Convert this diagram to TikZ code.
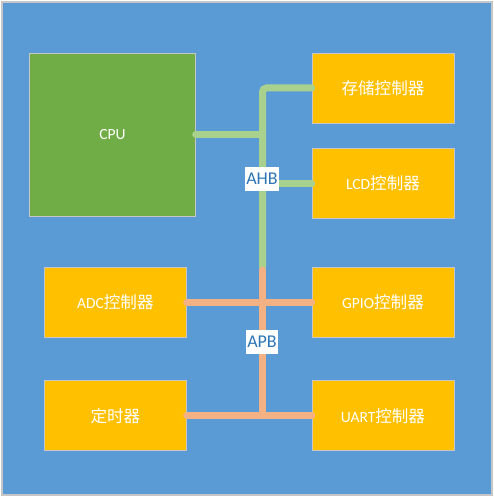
\documentclass[tikz,border=0pt]{standalone}
\usepackage{fontspec}
\setmainfont{Carlito}
\newfontfamily\cjk[Scale=1.07]{Noto Sans CJK SC}
\usepackage{tikz}
\usetikzlibrary{positioning}

\definecolor{bgblue}{HTML}{5B9BD5}
\definecolor{cpugreen}{HTML}{70AD47}
\definecolor{ctrlyellow}{HTML}{FFC000}
\definecolor{ahbgreen}{HTML}{A9D18E}
\definecolor{apborange}{HTML}{F4B183}
\definecolor{labelblue}{HTML}{2E75B6}

\begin{document}
\begin{tikzpicture}[
    x=1pt, y=1pt,
    font=\fontsize{15.5}{18}\selectfont,
    box/.style={rectangle, draw=gray!45, line width=0.6pt, fill=ctrlyellow, text=white, minimum width=142pt, minimum height=70pt},
    ahb/.style={draw=ahbgreen, line width=7pt, line cap=round, rounded corners=4pt},
    apb/.style={draw=apborange, line width=7pt, line cap=round},
    buslabel/.style={fill=white, text=labelblue, font=\fontsize{18}{20}\selectfont, inner xsep=1pt, inner ysep=2pt, minimum height=24pt}
]
    \useasboundingbox (0,0) rectangle (494,497);
    \draw[fill=bgblue, draw=gray!45, line width=1.5pt] (2,2) rectangle (492,495);

    \node[box] (mem) at (383,409) {\cjk 存储控制器};
    \node[box, below=25pt of mem] (lcd) {LCD\cjk 控制器};
    \node[box, below=48pt of lcd] (gpio) {GPIO\cjk 控制器};
    \node[box, below=43pt of gpio] (uart) {UART\cjk 控制器};
    \node[box, left=125pt of gpio] (adc) {ADC\cjk 控制器};
    \node[box, left=125pt of uart] (timer) {\cjk 定时器};
    \node[box, fill=cpugreen, minimum width=166pt, minimum height=163pt,
          left=116pt of mem.north west, anchor=north east] (cpu) {CPU};

    \coordinate (ahbtop) at (262.5,409);
    \coordinate (ahbend) at (262.5,230);
    \coordinate (apbtop) at (262.5,227);
    \coordinate (apbend) at (262.5,83);

    \draw[ahb] (mem.west) -- (ahbtop) -- (ahbend);
    \draw[ahb] (cpu.east) -- (cpu.east -| ahbtop);
    \draw[ahb] (lcd.west -| ahbtop) -- (lcd.west);

    \draw[apb] (apbtop) -- (apbend);
    \draw[apb] (adc.east) -- (gpio.west);
    \draw[apb] (timer.east) -- (uart.west);

    \node[buslabel] (ahblabel) at (262,318) {AHB};
    \node[buslabel] (apblabel) at (262,155) {APB};
\end{tikzpicture}
\end{document}
